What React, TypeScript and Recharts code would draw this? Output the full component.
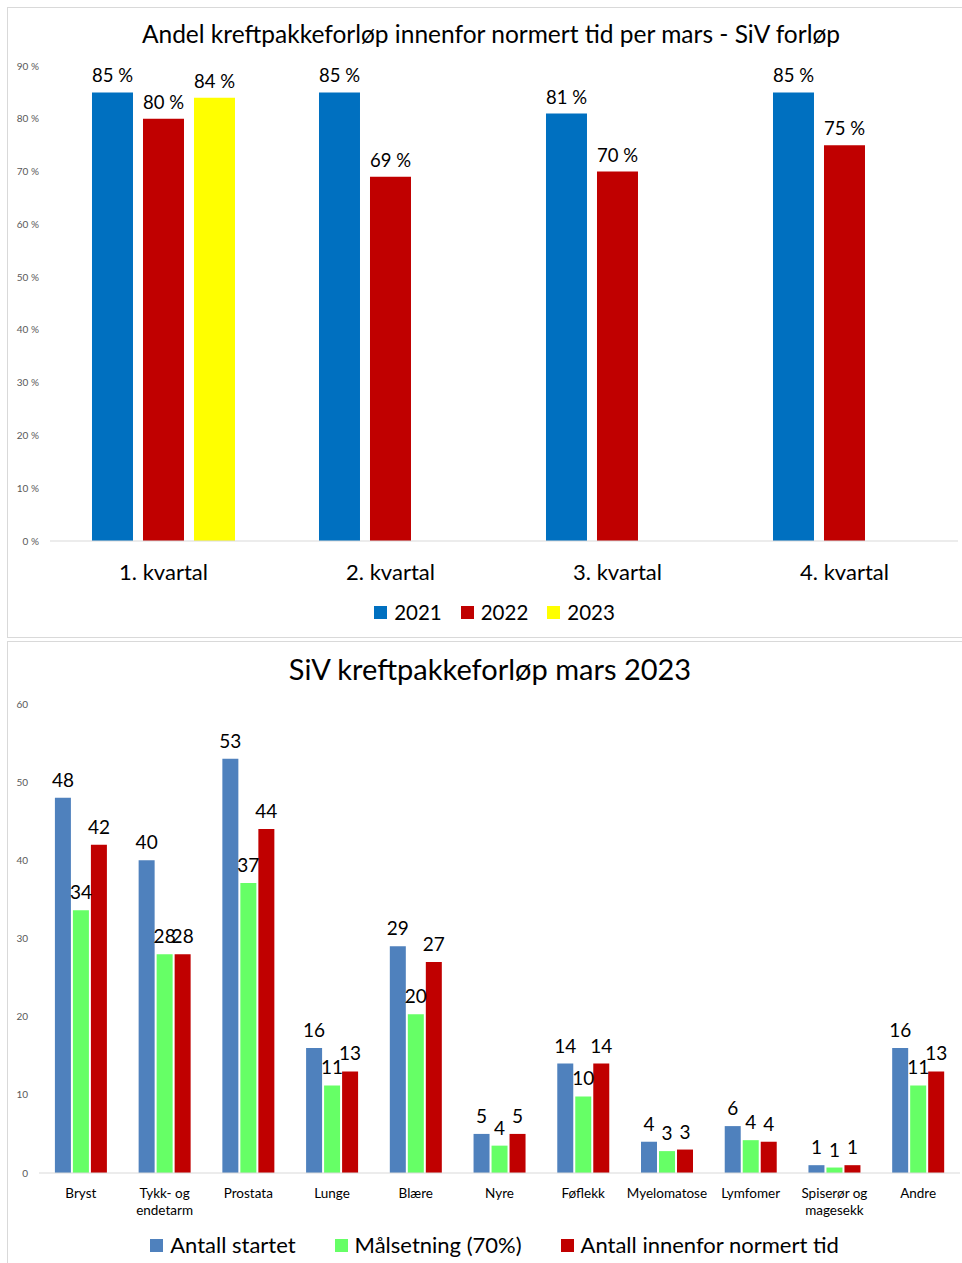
import React from "react";
import { BarChart, Bar, XAxis, YAxis, LabelList } from "recharts";

// top chart: share within standard time, per quarter
const quarters = ["1. kvartal", "2. kvartal", "3. kvartal", "4. kvartal"];
const share2021 = [0.85, 0.85, 0.81, 0.85];
const share2022 = [0.8, 0.69, 0.7, 0.75];
const share2023 = [0.84, null, null, null];
const shareTicks = [0, 0.1, 0.2, 0.3, 0.4, 0.5, 0.6, 0.7, 0.8, 0.9];

// bottom chart: counts per cancer type, march 2023
const cancerTypes = [
  "Bryst",
  "Tykk- og\nendetarm",
  "Prostata",
  "Lunge",
  "Blære",
  "Nyre",
  "Føflekk",
  "Myelomatose",
  "Lymfomer",
  "Spiserør og\nmagesekk",
  "Andre",
];
const started = [48, 40, 53, 16, 29, 5, 14, 4, 6, 1, 16];
const target70 = [33.6, 28, 37.1, 11.2, 20.3, 3.5, 9.8, 2.8, 4.2, 0.7, 11.2];
const withinTime = [42, 28, 44, 13, 27, 5, 14, 3, 4, 1, 13];
const countTicks = [0, 10, 20, 30, 40, 50, 60];

const FONT = "Lato, 'Open Sans', sans-serif";

const yearSeries = [
  { key: "y2021", name: "2021", color: "#0070C0" },
  { key: "y2022", name: "2022", color: "#C00000" },
  { key: "y2023", name: "2023", color: "#FFFF00" },
];
const countSeries = [
  { key: "started", name: "Antall startet", color: "#4F81BD" },
  { key: "target", name: "Målsetning (70%)", color: "#66FF66" },
  { key: "within", name: "Antall innenfor normert tid", color: "#C00000" },
];

const quarterData = quarters.map((q, i) => ({
  quarter: q,
  y2021: share2021[i],
  y2022: share2022[i],
  y2023: share2023[i],
}));

const cancerData = cancerTypes.map((c, i) => ({
  type: c,
  started: started[i],
  target: target70[i],
  within: withinTime[i],
}));

const pct = (v: any) => (v == null ? "" : `${Math.round(v * 100)} %`);

const SquareLegend = ({ items, fontSize, gap, top }: any) => (
  <div
    style={{
      position: "absolute",
      left: 7,
      width: 975,
      top,
      display: "flex",
      justifyContent: "center",
      fontFamily: FONT,
      fontSize,
      lineHeight: `${fontSize + 4}px`,
      color: "#000",
    }}
  >
    {items.map((p: any) => (
      <div key={p.name} style={{ display: "flex", alignItems: "center", margin: `0 ${gap}px` }}>
        <span style={{ width: 13, height: 13, background: p.color, display: "inline-block", marginRight: 7 }} />
        <span>{p.name}</span>
      </div>
    ))}
  </div>
);

const CancerTick = ({ x, y, payload }: any) => {
  const lines = String(payload.value).split("\n");
  return (
    <text x={x} y={y} textAnchor="middle" fontFamily={FONT} fontSize={13.5} fill="#000">
      {lines.map((l, i) => (
        <tspan key={i} x={x} dy={i === 0 ? 23 : 17}>
          {l}
        </tspan>
      ))}
    </text>
  );
};

export default function App() {
  return (
    <div style={{ position: "absolute", left: 0, top: 0, width: 962, height: 1263, overflow: "hidden", background: "#fff" }}>
      {/* top panel */}
      <div style={{ position: "absolute", left: 7, top: 7, width: 970, height: 631, border: "1px solid #d9d9d9", boxSizing: "border-box" }} />
      <div style={{ position: "absolute", left: 0, top: 19, width: 982, textAlign: "center", fontFamily: FONT, fontSize: 24.5 }}>
        Andel kreftpakkeforløp innenfor normert tid per mars - SiV forløp
      </div>
      <div style={{ position: "absolute", left: 7, top: 7 }}>
        <BarChart
          width={955}
          height={631}
          data={quarterData}
          margin={{ top: 59, right: 4, left: 0, bottom: 57 }}
          barCategoryGap="18.5%"
          barGap={10}
        >
          <YAxis
            domain={[0, 0.9]}
            ticks={shareTicks}
            tickFormatter={pct}
            width={43}
            axisLine={false}
            tickLine={false}
            tickSize={0}
            tickMargin={11}
            tick={{ fontSize: 10, fill: "#595959", fontFamily: FONT }}
          />
          <XAxis
            dataKey="quarter"
            height={40}
            axisLine={{ stroke: "#d9d9d9" }}
            tickLine={false}
            tickSize={0}
            tickMargin={23}
            tick={{ fontSize: 22, fill: "#000", fontFamily: FONT }}
          />
          {yearSeries.map((s) => (
            <Bar key={s.key} dataKey={s.key} name={s.name} fill={s.color} isAnimationActive={false}>
              <LabelList dataKey={s.key} position="top" offset={10} formatter={pct} style={{ fontSize: 18.5, fill: "#000", fontFamily: FONT }} />
            </Bar>
          ))}
        </BarChart>
      </div>
      <SquareLegend items={yearSeries} fontSize={20.5} gap={9.5} top={600} />

      {/* bottom panel */}
      <div style={{ position: "absolute", left: 7, top: 641, width: 970, height: 640, border: "1px solid #d9d9d9", boxSizing: "border-box" }} />
      <div style={{ position: "absolute", left: 0, top: 651, width: 980, textAlign: "center", fontFamily: FONT, fontSize: 29 }}>
        SiV kreftpakkeforløp mars 2023
      </div>
      <div style={{ position: "absolute", left: 7, top: 641 }}>
        <BarChart
          width={955}
          height={622}
          data={cancerData}
          margin={{ top: 63, right: 2, left: 0, bottom: 50 }}
          barCategoryGap="19%"
          barGap={2}
        >
          <YAxis
            domain={[0, 60]}
            ticks={countTicks}
            width={32}
            axisLine={false}
            tickLine={false}
            tickSize={0}
            tickMargin={11}
            tick={{ fontSize: 10, fill: "#595959", fontFamily: FONT }}
          />
          <XAxis
            dataKey="type"
            height={40}
            axisLine={{ stroke: "#d9d9d9" }}
            tickLine={false}
            tickSize={0}
            tick={<CancerTick />}
            interval={0}
          />
          {countSeries.map((s) => (
            <Bar key={s.key} dataKey={s.key} name={s.name} fill={s.color} isAnimationActive={false}>
              <LabelList
                dataKey={s.key}
                position="top"
                offset={11}
                formatter={(v: any) => Math.round(v)}
                style={{ fontSize: 19, fill: "#000", fontFamily: FONT }}
              />
            </Bar>
          ))}
        </BarChart>
      </div>
      <SquareLegend items={countSeries} fontSize={22} gap={19.5} top={1232} />
    </div>
  );
}
